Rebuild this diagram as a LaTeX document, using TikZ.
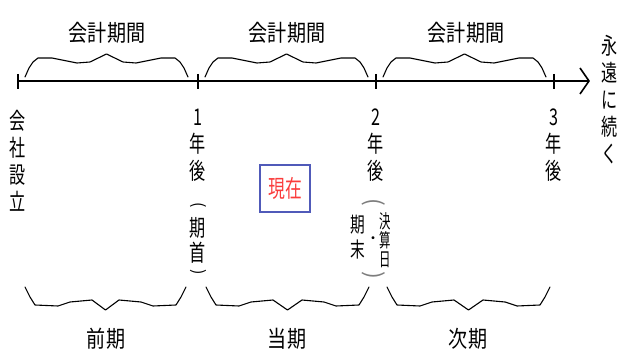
\documentclass[tikz,border=0pt]{standalone}
\usepackage{fontspec}
\newfontfamily\cjkH[FakeStretch=0.83]{Noto Sans CJK JP}
\newfontfamily\cjkV[FakeStretch=0.7]{Noto Sans CJK JP}
\newfontfamily\cjkN{Noto Sans CJK JP}
\newfontfamily\cjkS[FakeStretch=0.6]{Noto Sans CJK JP}
\definecolor{boxblue}{RGB}{80,90,185}
\definecolor{nowred}{RGB}{250,60,60}
\definecolor{parengray}{RGB}{125,125,125}
\newcommand\topbrace[2]{%
  \draw[bracestyle] (#1,77) -- ({#1+4},68) -- ({#1+8},62) -- ({#1+13},58) -- ({#1+27},58)
    -- ({#1+37},60) -- ({#1+52},63) -- ({#1+65},62) -- ({(#1+#2)/2},54)
    -- ({#2-65},62) -- ({#2-52},63) -- ({#2-37},60) -- ({#2-27},58) -- ({#2-13},58)
    -- ({#2-8},62) -- ({#2-4},68) -- (#2,77);}
\newcommand\botbrace[2]{%
  \draw[bracestyle] (#1,287) -- ({#1+5},297) -- ({#1+10},305) -- ({#1+33},306)
    -- ({#1+45},302) -- ({#1+67},300) -- ({(#1+#2)/2},310)
    -- ({#2-67},300) -- ({#2-45},302) -- ({#2-33},306) -- ({#2-10},305)
    -- ({#2-5},297) -- (#2,287);}
\begin{document}
\begin{tikzpicture}[x=1pt,y=-1pt,
  axisline/.style={line width=1.6pt},
  tickline/.style={line width=1.3pt},
  bracestyle/.style={line width=1.1pt, line join=round, line cap=round},
  hlabel/.style={inner sep=0pt, font=\cjkH\fontsize{23}{23}\selectfont},
  vlabel/.style={inner sep=0pt, align=center, font=\cjkV\fontsize{23}{27}\selectfont},
  paren/.style={inner sep=0pt, rotate=-90, font=\cjkN\fontsize{16}{16}\selectfont},
  gparen/.style={paren, text=parengray, font=\cjkN\fontsize{23}{23}\selectfont},
]
\useasboundingbox (0,0) rectangle (619,352);
% axis
\coordinate (t0) at (18,81);
\coordinate (t1) at (198,81);
\coordinate (t2) at (376,81);
\coordinate (t3) at (554,81);
\coordinate (tend) at (589,81);
\draw[axisline] (t0) -- (tend);
\draw[axisline, line join=miter] (tend) ++(-9,-13) -- (tend) -- ++(-9,13);
\foreach \t in {t0,t1,t2,t3} \draw[tickline] (\t) ++(0,-7) -- ++(0,15);
% top braces and labels
\topbrace{25}{188}
\topbrace{205}{368}
\topbrace{383}{546}
\node[hlabel] (period1) at (107,33) {会計期間};
\node[hlabel] (period2) at (287,33) {会計期間};
\node[hlabel] (period3) at (466,33) {会計期間};
% bottom braces and labels
\botbrace{25}{186}
\botbrace{206}{369}
\botbrace{387}{550}
\node[hlabel] (zenki) at (106,339) {前期};
\node[hlabel] (touki) at (287,339) {当期};
\node[hlabel] (jiki) at (468,339) {次期};
% vertical labels
\node[vlabel] (setsuritsu) at (18,161) {会\\社\\設\\立};
\node[vlabel] (year1) at (198,145) {1\\年\\後};
\node[vlabel] (year2) at (376,145) {2\\年\\後};
\node[vlabel] (year3) at (554,145) {3\\年\\後};
\node[vlabel] (eien) at (610,100) {永\\遠\\に\\続\\く};
% (期首)
\node[paren] (kishuO) at (198,205) {(};
\node[vlabel, font=\cjkV\fontsize{23}{25}\selectfont] (kishu) at (198,240) {期\\首};
\node[paren] (kishuC) at (198,272) {)};
% 現在
\node[draw=boxblue, line width=1.2pt, text=nowred, minimum width=50pt, minimum height=47pt,
  inner sep=0pt, font=\cjkV\fontsize{24}{24}\selectfont] (genzai) at (285,188.5) {現在};
% 期末・決算日
\node[gparen] (kimatsuO) at (374,202) {(};
\node[vlabel, font=\cjkV\fontsize{21}{25}\selectfont] (kimatsu) at (358,237) {期\\末};
\node[inner sep=0pt, font=\cjkN\fontsize{14}{14}\selectfont] (dot) at (373,240) {・};
\node[vlabel, font=\cjkS\fontsize{19}{19}\selectfont] (kessanbi) at (385,240) {決\\算\\日};
\node[gparen] (kimatsuC) at (374,275) {)};
\end{tikzpicture}
\end{document}
